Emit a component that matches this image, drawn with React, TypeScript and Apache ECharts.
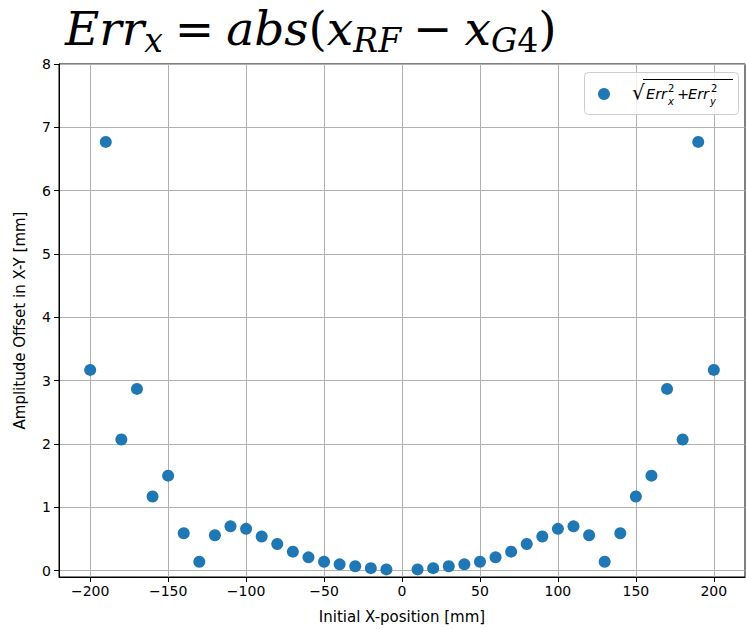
import React, { useEffect, useRef } from 'react';
import * as echarts from 'echarts';

// Initial X-positions [mm] (no run at 0)
const xPositions = [
  -200, -190, -180, -170, -160, -150, -140, -130, -120, -110,
  -100, -90, -80, -70, -60, -50, -40, -30, -20, -10,
  10, 20, 30, 40, 50, 60, 70, 80, 90, 100,
  110, 120, 130, 140, 150, 160, 170, 180, 190, 200,
];

// Amplitude offset sqrt(Err_x^2 + Err_y^2) [mm]
const offsets = [
  3.17, 6.77, 2.07, 2.87, 1.17, 1.5, 0.59, 0.14, 0.56, 0.7,
  0.66, 0.54, 0.42, 0.3, 0.21, 0.14, 0.1, 0.07, 0.04, 0.02,
  0.02, 0.04, 0.07, 0.1, 0.14, 0.21, 0.3, 0.42, 0.54, 0.66,
  0.7, 0.56, 0.14, 0.59, 1.17, 1.5, 2.87, 2.07, 6.77, 3.17,
];

const xTicks = [-200, -150, -100, -50, 0, 50, 100, 150, 200];
const yTicks = [0, 1, 2, 3, 4, 5, 6, 7, 8];

const seriesName = 'amplitude';
const SANS = 'DejaVu Sans';
const SERIF = 'DejaVu Serif';

const minus = (v: number) => String(v).replace('-', '\u2212');

export default function App() {
  const ref = useRef<HTMLDivElement>(null);

  useEffect(() => {
    if (!ref.current) return;
    const chart = echarts.init(ref.current, null, { renderer: 'svg' });

    const mi = (size: number) => `italic ${size}px "${SANS}"`;
    const mr = (size: number) => `${size}px "${SANS}"`;

    const big = { fontFamily: SERIF, fontWeight: 'normal', fontSize: 47, lineHeight: 52, verticalAlign: 'top', padding: [0, 0, 8, 0], color: '#000' };
    const small = { fontFamily: SERIF, fontWeight: 'normal', fontSize: 33, lineHeight: 34, verticalAlign: 'bottom', color: '#000' };

    const label = (x: number, y: number, text: string, font: string) => ({
      type: 'text', x, y, z: 20, silent: true,
      style: { text, font, fill: '#000', verticalAlign: 'middle' },
    });

    chart.setOption({
      animation: false,
      backgroundColor: '#ffffff',
      title: {
        text:
          '{i|Err}{s|x}{op|=}{i|abs}{u|(}{i|x}{s|RF}{op|\u2212}{i|x}{s|G}{su|4}{u|)}',
        left: 60,
        top: 0,
        textStyle: {
          fontWeight: 'normal',
          rich: {
            i: { ...big, fontStyle: 'italic' },
            u: { ...big },
            op: { ...big, padding: [0, 12, 8, 12] },
            s: { ...small, fontStyle: 'italic' },
            su: { ...small },
          },
        },
      },
      legend: {
        data: [seriesName],
        left: 598,
        top: 88,
        orient: 'vertical',
        padding: 0,
        itemWidth: 12,
        itemHeight: 12,
        icon: 'circle',
        z: 6,
        formatter: () => '',
      },
      graphic: [
        {
          // legend frame
          type: 'rect',
          silent: true,
          z: 5,
          shape: { x: 584.5, y: 72.5, width: 154, height: 42, r: 4 },
          style: { fill: 'rgba(255,255,255,0.8)', stroke: '#cccccc', lineWidth: 1 },
        },
        // legend label: sqrt(Err_x^2 + Err_y^2)
        label(632, 92, '\u221A', mr(20)),
        {
          type: 'line', z: 20, silent: true,
          shape: { x1: 643, y1: 79.5, x2: 733, y2: 79.5 },
          style: { stroke: '#000', lineWidth: 1 },
        },
        label(646, 94, 'Err', mi(14.5)),
        label(668, 101, 'x', mi(10)),
        label(668, 88, '2', mr(10)),
        label(677, 94, '+', mr(14.5)),
        label(688, 94, 'Err', mi(14.5)),
        label(710, 101, 'y', mi(10)),
        label(711, 88, '2', mr(10)),
      ],
      grid: {
        left: 59,
        right: 1,
        top: 64,
        bottom: 52,
        outerBoundsMode: 'none',
        show: true,
        borderColor: '#000',
        borderWidth: 1,
        backgroundColor: 'transparent',
      },
      xAxis: {
        type: 'value',
        min: -220,
        max: 220,
        name: 'Initial X-position [mm]',
        nameLocation: 'middle',
        nameGap: 32,
        nameTextStyle: { fontFamily: SANS, fontSize: 15, color: '#000' },
        axisLine: { show: true, onZero: false, lineStyle: { color: '#000', width: 1 } },
        axisTick: { show: true, length: 5, customValues: xTicks, lineStyle: { color: '#000' } },
        axisLabel: { customValues: xTicks, formatter: minus, fontFamily: SANS, fontSize: 14, color: '#000', margin: 7 },
        splitLine: { show: true, lineStyle: { color: '#b0b0b0', width: 1 } },
      },
      yAxis: {
        type: 'value',
        min: -0.1,
        max: 8,
        name: 'Amplitude Offset in X-Y [mm]',
        nameLocation: 'middle',
        nameGap: 32,
        nameTextStyle: { fontFamily: SANS, fontSize: 15, color: '#000' },
        axisLine: { show: true, onZero: false, lineStyle: { color: '#000', width: 1 } },
        axisTick: { show: true, length: 5, customValues: yTicks, lineStyle: { color: '#000' } },
        axisLabel: { customValues: yTicks, fontFamily: SANS, fontSize: 14, color: '#000', margin: 8 },
        splitLine: { show: true, lineStyle: { color: '#b0b0b0', width: 1 } },
      },
      series: [
        {
          name: seriesName,
          type: 'scatter',
          symbol: 'circle',
          symbolSize: 12,
          itemStyle: { color: '#1f77b4', opacity: 1 },
          data: xPositions.map((x, i) => [x, offsets[i]]),
        },
      ],
    });

    return () => chart.dispose();
  }, []);

  return <div ref={ref} style={{ position: 'absolute', left: 0, top: 0, width: 746, height: 629 }} />;
}
